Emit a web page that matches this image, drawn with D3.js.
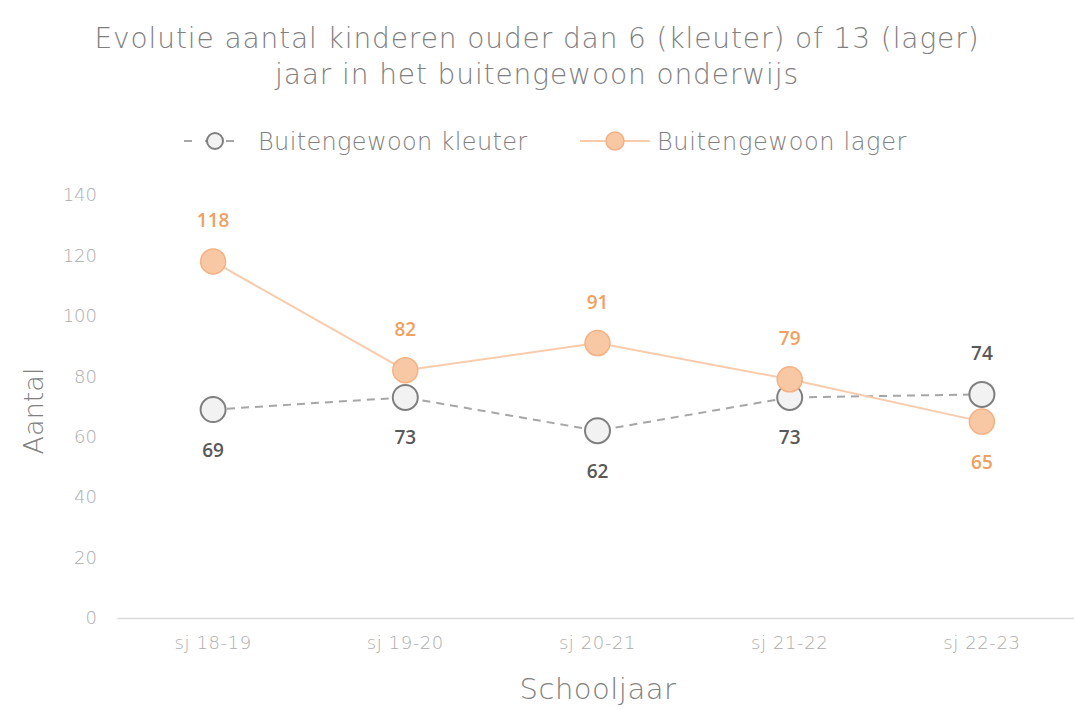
<!DOCTYPE html>
<html>
<head>
<meta charset="utf-8">
<script src="https://cdn.jsdelivr.net/npm/d3@7"></script>
<style>
  body { margin: 0; background: #fff; }
  svg text { font-family: "DejaVu Sans", sans-serif; font-weight: 200; }
</style>
</head>
<body>
<div id="chart_box"></div>
<script>
// data
var schooljaren = ["sj 18-19", "sj 19-20", "sj 20-21", "sj 21-22", "sj 22-23"];
var kleuter = [69, 73, 62, 73, 74];
var lager = [118, 82, 91, 79, 65];
var yTicks = [0, 20, 40, 60, 80, 100, 120, 140];
// where each data label goes: 1 = above the point, -1 = below
var kleuterLabelSide = [-1, -1, -1, -1, 1];
var lagerLabelSide = [1, 1, 1, 1, -1];

var width = 1074, height = 709;
var margin = { top: 195, right: -4, bottom: 91, left: 117 };

var orangeLine = "#f8cbad", orangeFill = "#f8c8a4", orangeStroke = "#f4b183", orangeText = "#f0a060";
var grayLine = "#a6a6a6", grayFill = "#f2f2f2", grayStroke = "#7f7f7f", grayText = "#595959";
var titleColor = "#808080", tickColor = "#acacac";

var svg = d3.select("#chart_box").append("svg")
    .attr("width", width)
    .attr("height", height);

var x = d3.scaleBand()
    .domain(schooljaren)
    .range([margin.left, width - margin.right]);

var y = d3.scaleLinear()
    .domain([0, 140])
    .range([height - margin.bottom, margin.top]);

// title
svg.append("text")
    .attr("x", 537).attr("y", 48)
    .attr("text-anchor", "middle")
    .style("font-size", "28px").style("letter-spacing", "0.9px")
    .style("fill", titleColor)
    .text("Evolutie aantal kinderen ouder dan 6 (kleuter) of 13 (lager)");
svg.append("text")
    .attr("x", 537).attr("y", 84)
    .attr("text-anchor", "middle")
    .style("font-size", "28px").style("letter-spacing", "0.9px")
    .style("fill", titleColor)
    .text("jaar in het buitengewoon onderwijs");

// y axis labels (no line)
var yAxis = svg.append("g")
    .attr("transform", "translate(" + (margin.left - 20) + ",0)")
    .call(d3.axisLeft(y).tickValues(yTicks).tickSize(0).tickPadding(0));
yAxis.select(".domain").remove();
yAxis.selectAll("text")
    .style("font-family", "'DejaVu Sans', sans-serif")
    .style("font-size", "18px").style("font-weight", 200)
    .style("fill", tickColor);

// baseline + x labels
var xAxis = svg.append("g")
    .attr("transform", "translate(0," + y(0) + ")")
    .call(d3.axisBottom(x).tickSize(0).tickPadding(18));
xAxis.select(".domain").attr("stroke", "#d9d9d9").attr("stroke-width", 1.5);
xAxis.selectAll("text")
    .style("font-family", "'DejaVu Sans', sans-serif")
    .style("font-size", "18px").style("font-weight", 200)
    .style("letter-spacing", "0.6px")
    .style("fill", tickColor);

// axis titles
svg.append("text")
    .attr("transform", "translate(43," + 411 + ") rotate(-90)")
    .attr("text-anchor", "middle")
    .style("font-size", "27px")
    .style("fill", titleColor)
    .text("Aantal");
svg.append("text")
    .attr("x", 598).attr("y", 699)
    .attr("text-anchor", "middle")
    .style("font-size", "29px").style("letter-spacing", "0.5px")
    .style("fill", titleColor)
    .text("Schooljaar");

var cx = function (d, i) { return x(schooljaren[i]) + x.bandwidth() / 2; };
var line = d3.line().x(cx).y(function (d) { return y(d); });

// kleuter series
svg.append("path")
    .datum(kleuter)
    .attr("d", line)
    .attr("fill", "none")
    .attr("stroke", grayLine)
    .attr("stroke-width", 2)
    .attr("stroke-dasharray", "8,6");

// lager series
svg.append("path")
    .datum(lager)
    .attr("d", line)
    .attr("fill", "none")
    .attr("stroke", orangeLine)
    .attr("stroke-width", 2);

svg.selectAll(".dot-k")
    .data(kleuter)
    .enter().append("circle")
    .attr("class", "dot-k")
    .attr("cx", cx).attr("cy", function (d) { return y(d); })
    .attr("r", 12.5)
    .attr("fill", grayFill)
    .attr("stroke", grayStroke)
    .attr("stroke-width", 2);

svg.selectAll(".dot-l")
    .data(lager)
    .enter().append("circle")
    .attr("class", "dot-l")
    .attr("cx", cx).attr("cy", function (d) { return y(d); })
    .attr("r", 12.5)
    .attr("fill", orangeFill)
    .attr("stroke", orangeStroke)
    .attr("stroke-width", 1.5);

// data labels
function labels(data, side, color) {
    svg.selectAll(null)
        .data(data)
        .enter().append("text")
        .attr("x", cx)
        .attr("y", function (d, i) { return y(d) + (side[i] > 0 ? -34 : 47); })
        .attr("text-anchor", "middle")
        .style("font-family", "'Open Sans', sans-serif")
        .style("font-size", "19px").style("font-weight", 600)
        .style("fill", color)
        .text(function (d) { return d; });
}
labels(kleuter, kleuterLabelSide, grayText);
labels(lager, lagerLabelSide, orangeText);

// legend
var lg = svg.append("g").attr("transform", "translate(0,141)");
lg.append("line").attr("x1", 184).attr("x2", 246)
    .attr("stroke", grayLine).attr("stroke-width", 2).attr("stroke-dasharray", "8,13")
    .attr("stroke-dashoffset", 0);
lg.append("circle").attr("cx", 215).attr("r", 8)
    .attr("fill", grayFill).attr("stroke", grayStroke).attr("stroke-width", 2);
lg.append("text").attr("x", 258).attr("y", 9)
    .style("font-size", "24px").style("letter-spacing", "0.35px").style("fill", titleColor)
    .text("Buitengewoon kleuter");
lg.append("line").attr("x1", 580).attr("x2", 650)
    .attr("stroke", orangeLine).attr("stroke-width", 2);
lg.append("circle").attr("cx", 615).attr("r", 9)
    .attr("fill", orangeFill).attr("stroke", orangeStroke).attr("stroke-width", 1.5);
lg.append("text").attr("x", 657).attr("y", 9)
    .style("font-size", "24px").style("letter-spacing", "0.65px").style("fill", titleColor)
    .text("Buitengewoon lager");
</script>
</body>
</html>
